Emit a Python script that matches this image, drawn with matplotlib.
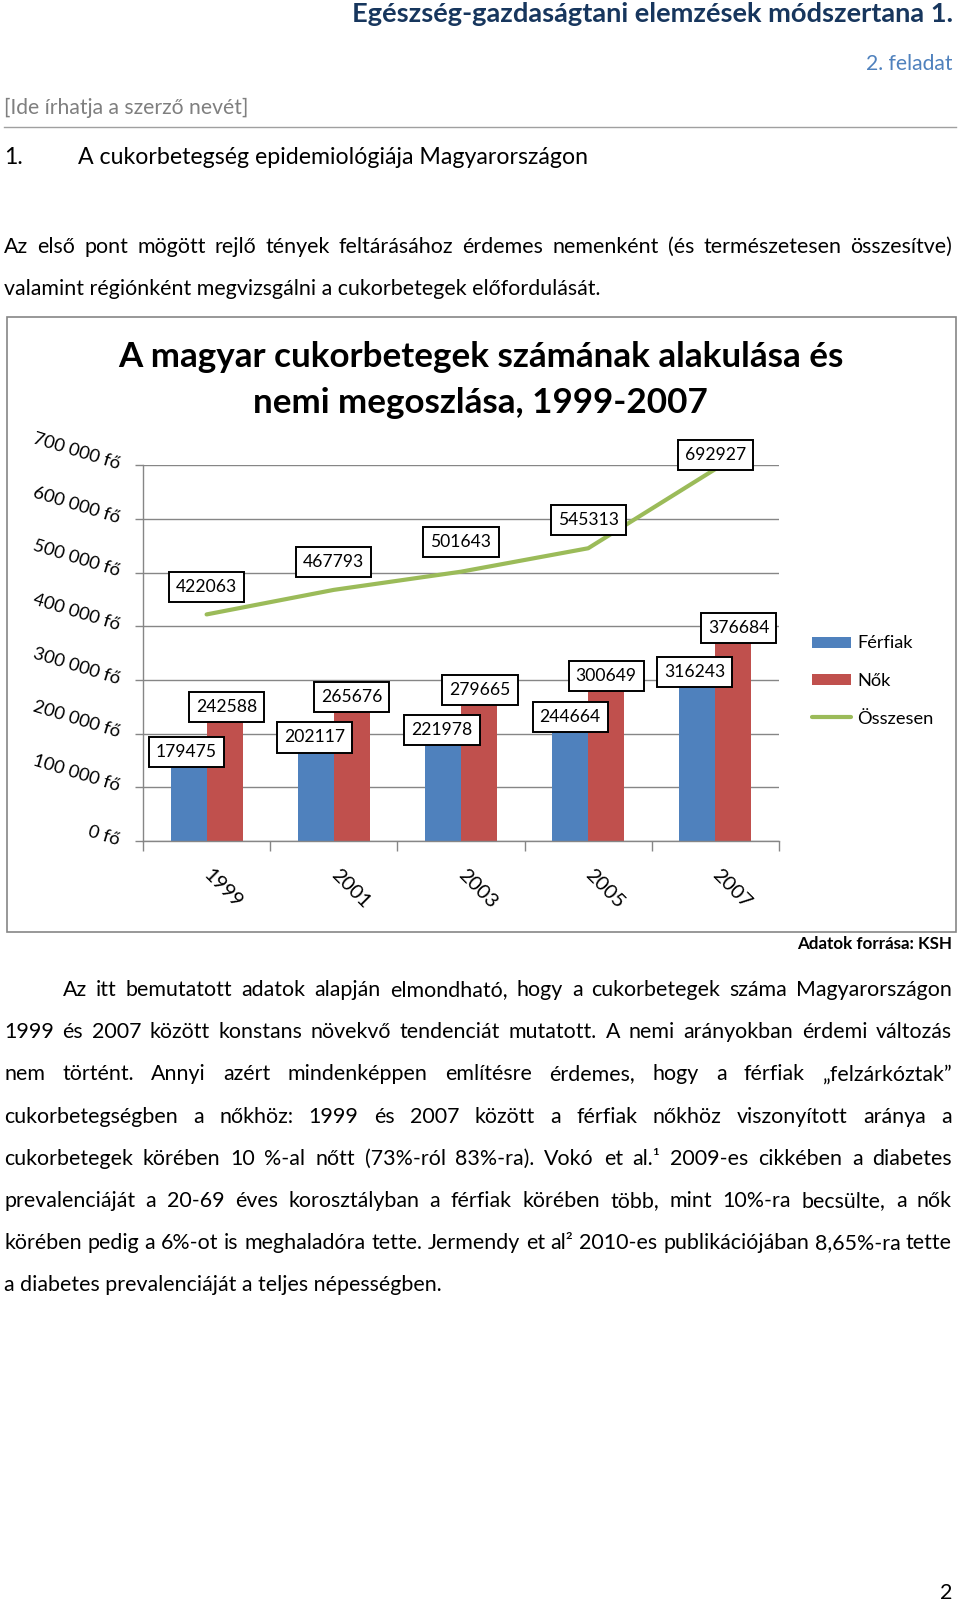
import numpy as np
import matplotlib.pyplot as plt
from matplotlib import transforms
from matplotlib.lines import Line2D
from matplotlib.patches import Rectangle

# chart data (source: KSH)
years = ["1999", "2001", "2003", "2005", "2007"]
ferfiak = [179475, 202117, 221978, 244664, 316243]
nok = [242588, 265676, 279665, 300649, 376684]
osszesen = [422063, 467793, 501643, 545313, 692927]
series_names = ["Férfiak", "Nők", "Összesen"]
y_ticks = [0, 100000, 200000, 300000, 400000, 500000, 600000, 700000]
y_tick_labels = ["0 fő", "100 000 fő", "200 000 fő", "300 000 fő",
                 "400 000 fő", "500 000 fő", "600 000 fő", "700 000 fő"]
chart_title = ["A magyar cukorbetegek számának alakulása és",
               "nemi megoszlása, 1999-2007"]

# page text
header_title = "Egészség-gazdaságtani elemzések módszertana 1."
header_task = "2. feladat"
header_author = "[Ide írhatja a szerző nevét]"
section_num = "1."
section_title = "A cukorbetegség epidemiológiája Magyarországon"
intro_lines = [
    "Az első pont mögött rejlő tények feltárásához érdemes nemenként (és természetesen összesítve)",
    "valamint régiónként megvizsgálni a cukorbetegek előfordulását.",
]
body_lines = [
    "Az itt bemutatott adatok alapján elmondható, hogy a cukorbetegek száma Magyarországon",
    "1999 és 2007 között konstans növekvő tendenciát mutatott. A nemi arányokban érdemi változás",
    "nem történt. Annyi azért mindenképpen említésre érdemes, hogy a férfiak „felzárkóztak”",
    "cukorbetegségben a nőkhöz: 1999 és 2007 között a férfiak nőkhöz viszonyított aránya a",
    "cukorbetegek körében 10 %-al nőtt (73%-ról 83%-ra). Vokó et al.¹ 2009-es cikkében a diabetes",
    "prevalenciáját a 20-69 éves korosztályban a férfiak körében több, mint 10%-ra becsülte, a nők",
    "körében pedig a 6%-ot is meghaladóra tette. Jermendy et al² 2010-es publikációjában 8,65%-ra tette",
    "a diabetes prevalenciáját a teljes népességben.",
]
source_note = "Adatok forrása: KSH"
page_number = "2"

# label nudges in pixels (Excel placed them by hand-ish)
blue_dx = [-2, -1, -1, 0, -3]
blue_dy = [-7, -5, -8, -7, -1]
red_dx = [2, 0, 1, 0, 5]
red_dy = [4, 1, 1, 4, 11]
total_dy = [27, 28, 30, 28, 14]

FONT = ["Lato", "DejaVu Sans"]
W, H = 960, 1603
BLUE, RED, GREEN = "#4F81BD", "#C0504D", "#9BBB59"
GRAY = "#868686"

fig = plt.figure(figsize=(W / 100, H / 100), dpi=100)
renderer = fig.canvas.get_renderer()


def fxy(x, y):
    return x / W, 1 - y / H


def text_width(s, size, weight="normal"):
    t = fig.text(0, 0, s, size=size, weight=weight, family=FONT)
    w = t.get_window_extent(renderer).width
    t.remove()
    return w


def fit_size(s, width, weight="normal"):
    return 10 * width / text_width(s, 10, weight)


def put(x, y, s, size, ha="left", weight="normal", color="black"):
    fig.text(*fxy(x, y), s, size=size, ha=ha, va="baseline",
             weight=weight, color=color, family=FONT)


def justify(s, x0, x1, y, size):
    words = s.split()
    extra = (x1 - x0 - text_width(s, size)) / (len(words) - 1)
    for i, w in enumerate(words):
        start = text_width(" ".join(words[:i + 1]), size) - text_width(w, size)
        put(x0 + start + i * extra, y, w, size)


# ---- page header ----
put(953, 21.5, header_title, fit_size(header_title, 601, "bold"),
    ha="right", weight="bold", color="#17365D")
put(952, 69.5, header_task, fit_size(header_task, 87), ha="right", color="#4F81BD")
put(4, 113.5, header_author, fit_size(header_author, 244), color="#7F7F7F")
fig.add_artist(Line2D([4 / W, 956 / W], [1 - 127 / H] * 2, color="#A0A0A0", lw=1))

sec_size = fit_size(section_title, 510)
put(4, 163.5, section_num, sec_size)
put(78, 163.5, section_title, sec_size)

# ---- body text ----
body_size = (fit_size(intro_lines[1], 592) + fit_size(body_lines[-1], 439)) / 2
justify(intro_lines[0], 4, 952, 253, body_size)
put(4, 295, intro_lines[1], body_size)

for i, line in enumerate(body_lines):
    y = 996 + i * 42.2
    if i == len(body_lines) - 1:
        put(4, y, line, body_size)
    else:
        justify(line, 63 if i == 0 else 4, 952, y, body_size)

put(952, 949, source_note, fit_size(source_note, 156, "bold"), ha="right", weight="bold")
put(952, 1599, page_number, body_size, ha="right")

# ---- chart frame and title ----
fig.add_artist(Rectangle(fxy(7, 932), (956 - 7) / W, (932 - 317) / H,
                         transform=fig.transFigure, fill=False, ec=GRAY, lw=1.2))
title_size = fit_size(chart_title[0], 725, "bold")
put(480.5, 367, chart_title[0], title_size, ha="center", weight="bold")
put(480.5, 413, chart_title[1], title_size, ha="center", weight="bold")

# ---- chart ----
ax = fig.add_axes([143 / W, 1 - 841 / H, (779 - 143) / W, (841 - 465) / H])
x = np.arange(len(years)) + 0.5
bw = 0.283
ax.bar(x - bw / 2, ferfiak, bw, color=BLUE, zorder=2)
ax.bar(x + bw / 2, nok, bw, color=RED, zorder=2)
ax.plot(x, osszesen, color=GREEN, lw=3, solid_capstyle="round", zorder=3)

ax.set_xlim(0, 5)
ax.set_ylim(0, 700400)
ax.set_xticks(range(len(years) + 1))
ax.set_xticklabels([])
ax.set_yticks(y_ticks)
ax.set_yticklabels([])
ax.tick_params(axis="both", direction="out", color=GRAY, width=1)
ax.tick_params(axis="x", length=7)
ax.tick_params(axis="y", length=6)
ax.set_axisbelow(True)
ax.yaxis.grid(True, color=GRAY, lw=1)
for side in ["top", "right"]:
    ax.spines[side].set_visible(False)
for side in ["left", "bottom"]:
    ax.spines[side].set_color(GRAY)
    ax.spines[side].set_linewidth(1)

tick_size = fit_size(y_tick_labels[-1], 90)
ytrans = transforms.blended_transform_factory(ax.transAxes, ax.transData) + \
    transforms.ScaledTranslation(-25 / 100, -4 / 100, fig.dpi_scale_trans)
for v, lab in zip(y_ticks, y_tick_labels):
    ax.text(0, v, lab, transform=ytrans, rotation=-17, rotation_mode="anchor",
            ha="right", va="baseline", size=tick_size, family=FONT)

xtrans = transforms.blended_transform_factory(ax.transData, ax.transAxes) + \
    transforms.ScaledTranslation(-4 / 100, -35 / 100, fig.dpi_scale_trans)
for xi, year in zip(x, years):
    ax.text(xi, 0, year, transform=xtrans, rotation=-45, rotation_mode="anchor",
            ha="left", va="baseline", size=tick_size * 1.1, family=FONT)

label_size = fit_size("179475", 61)
box = dict(boxstyle="square,pad=0.4", fc="white", ec="black", lw=1.4)


def data_label(xv, yv, dx, dy):
    ax.annotate(str(yv), (xv, yv), xytext=(dx, dy), textcoords="offset pixels",
                ha="center", va="center", size=label_size, family=FONT,
                bbox=box, zorder=5, annotation_clip=False)


for i in range(len(years)):
    data_label(x[i] - bw / 2, ferfiak[i], blue_dx[i], blue_dy[i])
    data_label(x[i] + bw / 2, nok[i], red_dx[i], red_dy[i])
    data_label(x[i], osszesen[i], 0, total_dy[i])

# ---- legend ----
legend_size = fit_size(series_names[2], 76)
for i, (name, color) in enumerate(zip(series_names, [BLUE, RED, GREEN])):
    base = 648 + 38 * i
    if i < 2:
        fig.add_artist(Rectangle(fxy(812, base - 0.5), 39 / W, 11 / H,
                                 transform=fig.transFigure, color=color, lw=0))
    else:
        fig.add_artist(Line2D([812 / W, 851 / W], [1 - (base - 7) / H] * 2,
                              color=color, lw=3, solid_capstyle="round"))
    put(857, base, name, legend_size)

fig.savefig("out.png", dpi=100)
